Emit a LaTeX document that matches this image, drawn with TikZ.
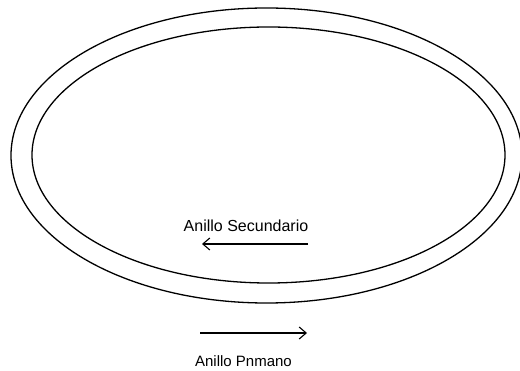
\documentclass[tikz,border=0pt]{standalone}
\usepackage{fontspec}
\setmainfont{Liberation Sans}
\usetikzlibrary{arrows.meta}
\begin{document}
\begin{tikzpicture}[x=1pt,y=-1pt,
  ring/.style={draw=black,line width=1.3pt},
  flow/.style={draw=black,line width=1.1pt,-{Straight Barb[length=7pt,width=12pt,line width=1.1pt]}},
  lbl/.style={anchor=base,inner sep=0pt,font=\fontsize{16}{19}\selectfont}]
\useasboundingbox (0,0) rectangle (520,371);
\draw[ring] (266.5,155.5) ellipse [x radius=255.5, y radius=147.5];
\draw[ring] (268.5,155) ellipse [x radius=236.5, y radius=128];
\node[lbl] (sec) at (246,232) {Anillo Secundario};
\coordinate (s1) at (308,244);
\coordinate (s2) at (202,244);
\draw[flow] (s1) -- (s2);
\coordinate (p1) at (200,333);
\coordinate (p2) at (307,333);
\draw[flow] (p1) -- (p2);
\node[lbl,font=\fontsize{15}{18}\selectfont] (pri) at (243.5,367) {Anillo Pnmano};
\end{tikzpicture}
\end{document}
